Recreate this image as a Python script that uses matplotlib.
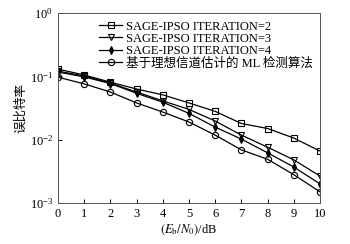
import matplotlib
matplotlib.use('Agg')
import matplotlib.pyplot as plt
import matplotlib.ticker as mticker

plt.rcParams['font.family'] = ['Liberation Serif', 'Noto Sans CJK SC']
plt.rcParams['mathtext.fontset'] = 'stix'
plt.rcParams['font.size'] = 9

snr = [0, 1, 2, 3, 4, 5, 6, 7, 8, 9, 10]
ber_iter2 = [0.130, 0.105, 0.081, 0.063, 0.051, 0.038, 0.028, 0.018, 0.015, 0.0106, 0.0066]
ber_iter3 = [0.121, 0.101, 0.078, 0.0565, 0.041, 0.030, 0.0197, 0.0118, 0.0076, 0.0048, 0.00266]
ber_iter4 = [0.117, 0.098, 0.077, 0.054, 0.039, 0.026, 0.0158, 0.0102, 0.0062, 0.0037, 0.0020]
ber_ml = [0.097, 0.076, 0.0565, 0.038, 0.0273, 0.019, 0.0118, 0.0069, 0.0049, 0.0028, 0.0015]
labels = ['SAGE-IPSO ITERATION=2', 'SAGE-IPSO ITERATION=3',
          'SAGE-IPSO ITERATION=4', '基于理想信道估计的 ML 检测算法']

fig = plt.figure(figsize=(3.5, 2.44), dpi=100)
ax = fig.add_axes([58 / 350, 41 / 244, 262 / 350, 190 / 244])

ax.semilogy(snr, ber_iter2, 'k-', marker='s', mfc='none', ms=4.5, lw=0.9, mew=0.8, label=labels[0])
ax.semilogy(snr, ber_iter3, 'k-', marker='v', mfc='none', ms=5, lw=0.9, mew=0.8, label=labels[1])
ax.semilogy(snr, ber_iter4, 'k-', marker='d', mfc='k', ms=4, lw=0.9, mew=0.8, label=labels[2])
ax.semilogy(snr, ber_ml, 'k-', marker='o', mfc='none', ms=4.5, lw=0.9, mew=0.8, label=labels[3])

ax.set_xlim(0, 10)
ax.set_ylim(1e-3, 1)
ax.set_xticks(snr)
ax.yaxis.set_minor_locator(mticker.NullLocator())
ax.tick_params(direction='in', length=3, width=0.7, labelsize=9)
for s in ax.spines.values():
    s.set_linewidth(0.7)
    s.set_color('#555555')

ax.set_xlabel(r'$(E_{\rm b}/N_0)$/dB', fontsize=9, labelpad=2)
ax.set_ylabel('误比特率', fontsize=9, labelpad=2)

ax.legend(loc='upper right', frameon=False, fontsize=9, handlelength=1.8,
          handletextpad=0.3, labelspacing=0.02, borderaxespad=0.2)

fig.savefig('out.png', dpi=100)
